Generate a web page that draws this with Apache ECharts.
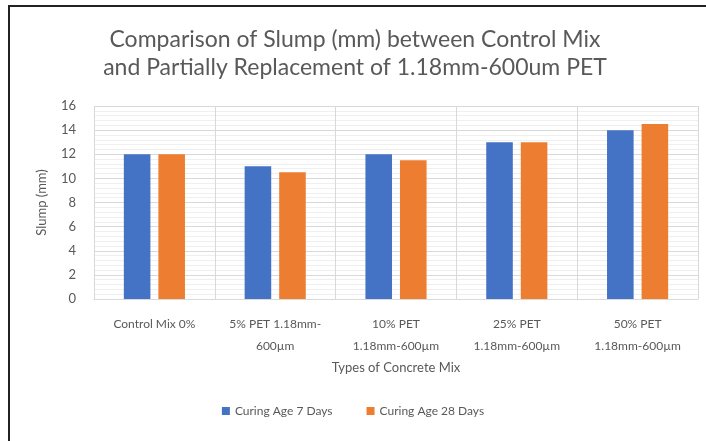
<!DOCTYPE html>
<html>
<head>
<meta charset="utf-8">
<script src="https://cdn.jsdelivr.net/npm/echarts@6/dist/echarts.min.js"></script>
<style>
  html, body { margin: 0; padding: 0; background: #fff; }
  #frame {
    position: absolute; left: 8px; top: 5px; width: 698px; height: 436px;
    border-left: 2px solid #222; border-top: 2px solid #222; box-sizing: border-box;
  }
  #chart { position: absolute; left: 0; top: 0; width: 706px; height: 441px; }
</style>
</head>
<body>
<div id="frame"></div>
<div id="chart"></div>
<script>
// data
const mixTypes = [
  'Control Mix 0%',
  '5% PET 1.18mm-\n600µm',
  '10% PET\n1.18mm-600µm',
  '25% PET\n1.18mm-600µm',
  '50% PET\n1.18mm-600µm'
];
const age7Days = [12, 11, 12, 13, 14];
const age28Days = [12, 10.5, 11.5, 13, 14.5];
const seriesNames = ['Curing Age 7 Days', 'Curing Age 28 Days'];

const font = 'Lato, "Open Sans", sans-serif';
const chart = echarts.init(document.getElementById('chart'));

const option = {
  animation: false,
  title: {
    text: 'Comparison of Slump (mm) between Control Mix\nand Partially Replacement of 1.18mm-600um PET',
    left: 350,
    textAlign: 'center',
    top: 21,
    textStyle: { fontFamily: font, fontSize: 23, fontWeight: 'normal', color: '#595959', lineHeight: 28 }
  },
  legend: {
    data: seriesNames,
    bottom: 19,
    left: 'center',
    itemWidth: 8,
    itemHeight: 8,
    itemGap: 34,
    icon: 'rect',
    textStyle: { fontFamily: font, fontSize: 12, color: '#595959' }
  },
  grid: { left: 94, right: 8, top: 106, bottom: 142 },
  xAxis: {
    type: 'category',
    data: mixTypes,
    name: 'Types of Concrete Mix',
    nameLocation: 'middle',
    nameGap: 62,
    nameTextStyle: { fontFamily: font, fontSize: 13, color: '#595959' },
    axisLine: { lineStyle: { color: '#d9d9d9' } },
    axisTick: { show: false },
    axisLabel: { interval: 0, fontFamily: font, fontSize: 12, color: '#595959', lineHeight: 22, margin: 14 },
    splitLine: { show: true, lineStyle: { color: '#d9d9d9' } }
  },
  yAxis: {
    type: 'value',
    min: 0,
    max: 16,
    interval: 2,
    name: 'Slump (mm)',
    nameLocation: 'middle',
    nameGap: 46,
    nameTextStyle: { fontFamily: font, fontSize: 13, color: '#595959' },
    axisLine: { show: false },
    axisTick: { show: false },
    axisLabel: { fontFamily: font, fontSize: 13, color: '#595959', margin: 18 },
    splitLine: { lineStyle: { color: '#d9d9d9' } },
    minorTick: { show: false, splitNumber: 5 },
    minorSplitLine: { show: true, lineStyle: { color: '#efefef' } }
  },
  series: [
    {
      name: seriesNames[0],
      type: 'bar',
      data: age7Days,
      barWidth: '22%',
      barGap: '30%',
      itemStyle: { color: '#4472C4' }
    },
    {
      name: seriesNames[1],
      type: 'bar',
      data: age28Days,
      barWidth: '22%',
      itemStyle: { color: '#ED7D31' }
    }
  ]
};

chart.setOption(option);
</script>
</body>
</html>
